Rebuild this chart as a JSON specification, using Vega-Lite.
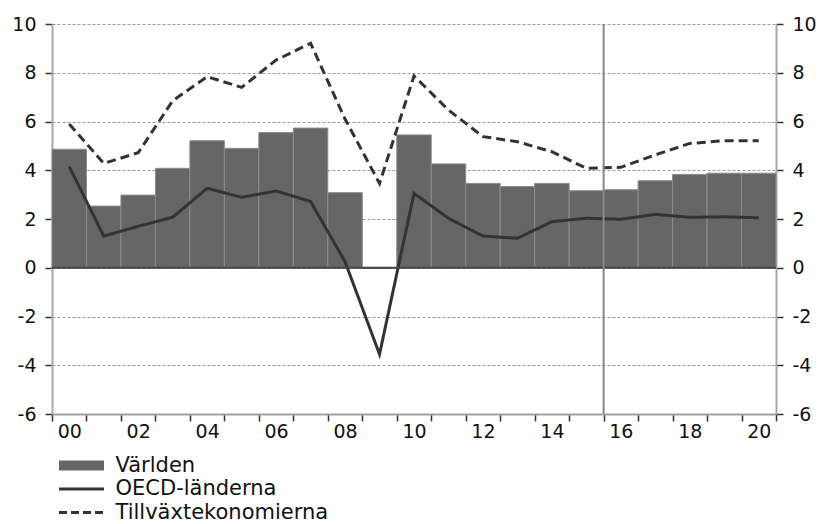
{
  "$schema": "https://vega.github.io/schema/vega-lite/v6.json",
  "width": 724,
  "height": 390,
  "autosize": {"type": "none"},
  "padding": {"left": 52, "top": 24, "right": 42, "bottom": 110},
  "background": "white",
  "config": {
    "view": {"stroke": null},
    "font": "DejaVu Sans",
    "axis": {"labelFont": "DejaVu Sans", "labelFontSize": 19, "labelColor": "#111111"}
  },
  "datasets": {
    "varlden": [
      {"year": 2000, "serie": "Världen", "value": 4.86},
      {"year": 2001, "serie": "Världen", "value": 2.53},
      {"year": 2002, "serie": "Världen", "value": 2.98},
      {"year": 2003, "serie": "Världen", "value": 4.08},
      {"year": 2004, "serie": "Världen", "value": 5.21},
      {"year": 2005, "serie": "Världen", "value": 4.9},
      {"year": 2006, "serie": "Världen", "value": 5.55},
      {"year": 2007, "serie": "Världen", "value": 5.73},
      {"year": 2008, "serie": "Världen", "value": 3.08},
      {"year": 2009, "serie": "Världen", "value": -0.03},
      {"year": 2010, "serie": "Världen", "value": 5.45},
      {"year": 2011, "serie": "Världen", "value": 4.26},
      {"year": 2012, "serie": "Världen", "value": 3.46},
      {"year": 2013, "serie": "Världen", "value": 3.33},
      {"year": 2014, "serie": "Världen", "value": 3.46},
      {"year": 2015, "serie": "Världen", "value": 3.16},
      {"year": 2016, "serie": "Världen", "value": 3.2},
      {"year": 2017, "serie": "Världen", "value": 3.57},
      {"year": 2018, "serie": "Världen", "value": 3.83},
      {"year": 2019, "serie": "Världen", "value": 3.88},
      {"year": 2020, "serie": "Världen", "value": 3.88}
    ],
    "lines": [
      {"year": 2000, "serie": "OECD-länderna", "value": 4.15},
      {"year": 2001, "serie": "OECD-länderna", "value": 1.3},
      {"year": 2002, "serie": "OECD-länderna", "value": 1.7},
      {"year": 2003, "serie": "OECD-länderna", "value": 2.07},
      {"year": 2004, "serie": "OECD-länderna", "value": 3.26},
      {"year": 2005, "serie": "OECD-länderna", "value": 2.89},
      {"year": 2006, "serie": "OECD-länderna", "value": 3.15},
      {"year": 2007, "serie": "OECD-länderna", "value": 2.72},
      {"year": 2008, "serie": "OECD-länderna", "value": 0.25},
      {"year": 2009, "serie": "OECD-länderna", "value": -3.55},
      {"year": 2010, "serie": "OECD-länderna", "value": 3.05},
      {"year": 2011, "serie": "OECD-länderna", "value": 2.03},
      {"year": 2012, "serie": "OECD-länderna", "value": 1.3},
      {"year": 2013, "serie": "OECD-länderna", "value": 1.21},
      {"year": 2014, "serie": "OECD-länderna", "value": 1.89},
      {"year": 2015, "serie": "OECD-länderna", "value": 2.03},
      {"year": 2016, "serie": "OECD-länderna", "value": 1.99},
      {"year": 2017, "serie": "OECD-länderna", "value": 2.19},
      {"year": 2018, "serie": "OECD-länderna", "value": 2.07},
      {"year": 2019, "serie": "OECD-länderna", "value": 2.09},
      {"year": 2020, "serie": "OECD-länderna", "value": 2.05},
      {"year": 2000, "serie": "Tillväxtekonomierna", "value": 5.9},
      {"year": 2001, "serie": "Tillväxtekonomierna", "value": 4.28},
      {"year": 2002, "serie": "Tillväxtekonomierna", "value": 4.72},
      {"year": 2003, "serie": "Tillväxtekonomierna", "value": 6.85},
      {"year": 2004, "serie": "Tillväxtekonomierna", "value": 7.84},
      {"year": 2005, "serie": "Tillväxtekonomierna", "value": 7.4},
      {"year": 2006, "serie": "Tillväxtekonomierna", "value": 8.52},
      {"year": 2007, "serie": "Tillväxtekonomierna", "value": 9.21},
      {"year": 2008, "serie": "Tillväxtekonomierna", "value": 6.1},
      {"year": 2009, "serie": "Tillväxtekonomierna", "value": 3.46},
      {"year": 2010, "serie": "Tillväxtekonomierna", "value": 7.87},
      {"year": 2011, "serie": "Tillväxtekonomierna", "value": 6.47},
      {"year": 2012, "serie": "Tillväxtekonomierna", "value": 5.38},
      {"year": 2013, "serie": "Tillväxtekonomierna", "value": 5.17},
      {"year": 2014, "serie": "Tillväxtekonomierna", "value": 4.76},
      {"year": 2015, "serie": "Tillväxtekonomierna", "value": 4.08},
      {"year": 2016, "serie": "Tillväxtekonomierna", "value": 4.12},
      {"year": 2017, "serie": "Tillväxtekonomierna", "value": 4.63},
      {"year": 2018, "serie": "Tillväxtekonomierna", "value": 5.1},
      {"year": 2019, "serie": "Tillväxtekonomierna", "value": 5.21},
      {"year": 2020, "serie": "Tillväxtekonomierna", "value": 5.21}
    ]
  },
  "layer": [
    {
      "data": {"name": "varlden"},
      "mark": {"type": "bar", "stroke": "#8c8c8c", "strokeWidth": 1},
      "encoding": {
        "x": {
          "field": "year", "type": "ordinal",
          "scale": {"paddingInner": 0, "paddingOuter": 0},
          "axis": {
            "title": null,
            "labelExpr": "datum.value % 2 == 0 ? substring(toString(datum.value), 2, 4) : ''",
            "labelAngle": 0,
            "tickBand": "extent",
            "tickSize": 7,
            "tickColor": "#333333",
            "tickWidth": 1.5,
            "domainColor": "#a0a0a0",
            "domainWidth": 2,
            "labelPadding": 1,
            "grid": false
          }
        },
        "y": {
          "field": "value", "type": "quantitative",
          "scale": {"domain": [-6, 10], "nice": false, "zero": false},
          "axis": {
            "title": null,
            "orient": "left",
            "values": [-6, -4, -2, 0, 2, 4, 6, 8, 10],
            "labelExpr": "toString(datum.value)",
            "grid": true,
            "gridDash": [3, 2],
            "gridColor": "#9a9a9a",
            "gridWidth": 1,
            "tickSize": 7,
            "tickColor": "#333333",
            "tickWidth": 1.5,
            "domainColor": "#a8a8a8",
            "domainWidth": 2,
            "labelPadding": 9
          }
        },
        "color": {
          "field": "serie", "type": "nominal",
          "scale": {
            "domain": ["Världen", "OECD-länderna", "Tillväxtekonomierna"],
            "range": ["#666666", "#333333", "#333333"]
          },
          "legend": {
            "title": null,
            "orient": "none",
            "legendX": 6.5,
            "legendY": 431,
            "direction": "vertical",
            "rowPadding": 1.5,
            "padding": 0,
            "symbolSize": 400,
            "symbolStrokeWidth": 3,
            "symbolOffset": 12.5,
            "labelFont": "DejaVu Sans",
            "labelFontSize": 21,
            "labelColor": "#111111",
            "labelOffset": 23.5,
            "labelLimit": 400,
            "encoding": {
              "symbols": {
                "shape": {"value": {"expr": "datum.value === 'Världen' ? 'M-2.25,-0.5H2.25V0.5H-2.25Z' : 'M-2.25,0H2.25'"}},
                "fill": {"value": {"expr": "datum.value === 'Världen' ? '#707070' : 'transparent'"}},
                "stroke": {"value": {"expr": "datum.value === 'Världen' ? '#707070' : '#333333'"}},
                "strokeWidth": {"value": {"expr": "datum.value === 'Världen' ? 0 : 3"}},
                "strokeDash": {"value": {"expr": "datum.value === 'Tillväxtekonomierna' ? [8, 4] : [1, 0]"}},
                "opacity": {"value": 1}
              }
            }
          }
        }
      }
    },
    {
      "data": {"name": "lines"},
      "mark": {"type": "line", "strokeWidth": 3},
      "encoding": {
        "x": {"field": "year", "type": "ordinal"},
        "y": {
          "field": "value", "type": "quantitative",
          "axis": {
            "title": null,
            "orient": "right",
            "values": [-6, -4, -2, 0, 2, 4, 6, 8, 10],
            "labelExpr": "toString(datum.value)",
            "grid": false,
            "tickSize": 7,
            "tickColor": "#333333",
            "tickWidth": 1.5,
            "domainColor": "#a8a8a8",
            "domainWidth": 2,
            "labelPadding": 9
          }
        },
        "color": {"field": "serie", "type": "nominal"},
        "strokeDash": {
          "field": "serie", "type": "nominal",
          "scale": {"domain": ["OECD-länderna", "Tillväxtekonomierna"], "range": [[1, 0], [9, 5]]},
          "legend": null
        }
      }
    },
    {
      "data": {"values": [{}]},
      "mark": {"type": "rule", "color": "#444444", "strokeWidth": 2},
      "encoding": {"y": {"datum": 0, "type": "quantitative", "axis": null}}
    },
    {
      "data": {"values": [{}]},
      "mark": {"type": "rule", "color": "#888888", "strokeWidth": 2},
      "encoding": {"x": {"datum": 2016, "type": "ordinal", "bandPosition": 0}}
    }
  ],
  "resolve": {"axis": {"y": "independent"}}
}
